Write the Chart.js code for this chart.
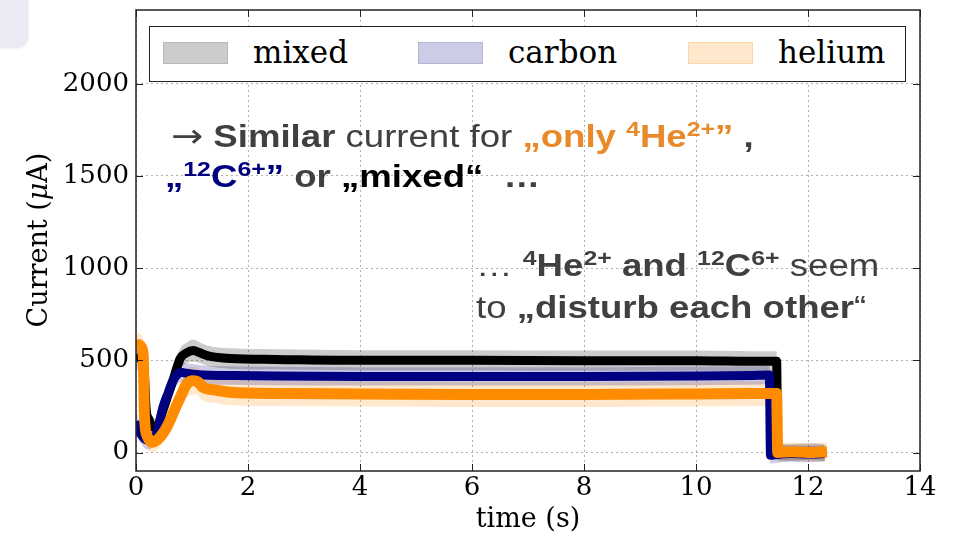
<!DOCTYPE html>
<html>
<head>
<meta charset="utf-8">
<script src="https://cdn.jsdelivr.net/npm/chart.js@4.4.0/dist/chart.umd.min.js"></script>
<style>
html, body { margin: 0; padding: 0; background: #fff; }
#wrap { position: relative; width: 958px; height: 533px; overflow: hidden; }
#chart { position: absolute; left: 0; top: 0; }
.tab { position: absolute; left: -12px; top: -12px; width: 39px; height: 59px; background: #ebebf5; border-radius: 11px; box-shadow: 1px 1px 3px rgba(0,0,0,0.12); }
#legend { position: absolute; left: 149px; top: 26px; width: 757px; height: 56px; box-sizing: border-box; border: 1.5px solid #222; background: #fff;
  font-family: 'DejaVu Serif', serif; font-size: 31px; color: #000; }
#legend .item { position: absolute; top: 0; height: 100%; display: flex; align-items: center; padding-bottom: 5px; box-sizing: border-box; }
#legend .sw { width: 65px; height: 22px; margin-right: 25px; box-sizing: border-box; border: 1px solid; position: relative; top: 1px; }
.ytitle { position: absolute; left: 37px; top: 240px; transform: translate(-50%, -50%) rotate(-90deg); white-space: nowrap;
  font-family: 'DejaVu Serif', serif; font-size: 27px; color: #000; }
.note { position: absolute; font-family: 'Liberation Sans', Arial, sans-serif; font-size: 31px; line-height: 1; color: #404040;
  white-space: nowrap; transform: scaleX(1.18); transform-origin: left center; }
.note sup { font-size: 0.68em; position: relative; top: -0.5em; vertical-align: baseline; line-height: 0; }
.note .arrow { font-family: 'DejaVu Sans', sans-serif; font-size: 1.05em; }
.orange { color: #e8892a; }
.navy { color: #000080; }
.black { color: #000; }
</style>
</head>
<body>
<div id="wrap">
  <canvas id="chart" width="958" height="533"></canvas>
  <div class="tab"></div>
  <div id="legend"></div>
  <div class="ytitle">Current (<i>μ</i>A)</div>
  <div class="note" style="left:171px;top:120px"><span class="arrow">→</span> <b>Similar</b> current for <b class="orange">„only <sup>4</sup>He<sup>2+</sup>”</b> <b>,</b></div>
  <div class="note" style="left:165px;top:161px"><b class="navy">„<sup>12</sup>C<sup>6+</sup>”</b><b> or </b><b class="black">„mixed“</b><b>&nbsp; …</b></div>
  <div class="note" style="left:476px;top:250px">… <b><sup>4</sup>He<sup>2+</sup> and <sup>12</sup>C<sup>6+</sup></b> seem</div>
  <div class="note" style="left:476px;top:292px">to <b>„disturb each other</b>“</div>
</div>
<script>
// axis ticks
const xTicks = [0, 2, 4, 6, 8, 10, 12, 14];
const yTicks = [0, 500, 1000, 1500, 2000];

const seriesNames = ['mixed', 'carbon', 'helium'];

// mixed beam (black)
const mixedTime    = [0, 0.06, 0.12, 0.15, 0.18, 0.23, 0.3, 0.37, 0.48, 0.57, 0.66, 0.73, 0.79, 0.9, 1.02, 1.15, 1.27, 1.68, 2.5, 4, 6, 8, 10, 11, 11.44, 11.46, 11.7, 12, 12.3];
const mixedCurrent = [505, 515, 500, 430, 240, 180, 140, 135, 228, 310, 390, 460, 510, 540, 553, 540, 526, 510, 505, 500, 500, 498, 498, 495, 495, 5, 0, 5, 0];
const mixedSpread  = [60, 60, 60, 70, 60, 55, 50, 50, 50, 50, 55, 55, 55, 55, 60, 55, 55, 55, 55, 55, 55, 55, 55, 55, 55, 45, 45, 45, 45];

// carbon beam (navy)
const carbonTime    = [0, 0.05, 0.1, 0.15, 0.21, 0.28, 0.37, 0.48, 0.57, 0.66, 0.73, 0.79, 0.9, 1.02, 1.2, 1.6, 2.5, 4, 6, 8, 10, 11, 11.31, 11.33, 11.45, 11.7, 12, 12.3];
const carbonCurrent = [170, 120, 95, 75, 66, 75, 104, 245, 320, 390, 420, 435, 430, 425, 420, 418, 415, 413, 413, 413, 415, 418, 420, -15, -10, -5, -8, -5];
const carbonSpread  = [60, 55, 50, 50, 50, 50, 50, 50, 55, 55, 55, 55, 55, 55, 52, 50, 50, 50, 50, 50, 50, 50, 50, 45, 45, 45, 45, 45];

// helium beam (orange)
const heliumTime    = [0, 0.05, 0.1, 0.13, 0.15, 0.2, 0.3, 0.4, 0.48, 0.57, 0.66, 0.79, 0.91, 1.02, 1.1, 1.2, 1.4, 1.68, 2.5, 4, 6, 8, 10, 11, 11.44, 11.46, 11.7, 12, 12.34];
const heliumCurrent = [575, 585, 570, 520, 200, 90, 56, 75, 104, 150, 212, 300, 373, 390, 385, 353, 340, 327, 320, 318, 315, 315, 318, 320, 320, 0, 5, 0, 5];
const heliumSpread  = [65, 65, 65, 70, 70, 60, 55, 55, 55, 60, 65, 70, 75, 75, 75, 72, 70, 70, 68, 68, 68, 68, 68, 68, 68, 50, 50, 50, 50];

const lineColors = ['#000000', '#000080', '#ff8c00'];
const lineWidths = [9, 9, 11];
const bandColors = ['rgba(0,0,0,0.2)', 'rgba(0,0,128,0.2)', 'rgba(255,140,0,0.2)'];
const swatchBorders = ['#b8b8b8', '#b4b4d6', '#fbd6ac'];

const series = [
  { t: mixedTime, y: mixedCurrent, s: mixedSpread },
  { t: carbonTime, y: carbonCurrent, s: carbonSpread },
  { t: heliumTime, y: heliumCurrent, s: heliumSpread }
];

const pts = (t, vals) => t.map((x, i) => ({ x: x, y: vals[i] }));

const datasets = [];
// min/max envelopes first: upper edge fills down to the next dataset
series.forEach((sr, k) => {
  const hi = sr.y.map((v, i) => v + sr.s[i]);
  const lo = sr.y.map((v, i) => v - sr.s[i]);
  datasets.push({ label: seriesNames[k] + ' max', data: pts(sr.t, hi), borderWidth: 0, pointRadius: 0,
    backgroundColor: bandColors[k], fill: '+1', order: 10, cubicInterpolationMode: 'monotone' });
  datasets.push({ label: seriesNames[k] + ' min', data: pts(sr.t, lo), borderWidth: 0, pointRadius: 0,
    fill: false, order: 10, cubicInterpolationMode: 'monotone' });
});
// mean traces, helium ends up on top
series.forEach((sr, k) => {
  datasets.push({ label: seriesNames[k], data: pts(sr.t, sr.y), borderColor: lineColors[k], borderWidth: lineWidths[k],
    pointRadius: 0, fill: false, order: 3 - k, cubicInterpolationMode: 'monotone', borderJoinStyle: 'round' });
});

// frame + inward ticks on all four sides
const frameTicks = {
  id: 'frameTicks',
  afterDraw(chart) {
    const { ctx, chartArea: a, scales: { x, y } } = chart;
    ctx.save();
    ctx.strokeStyle = '#222';
    ctx.lineWidth = 1;
    ctx.beginPath();
    xTicks.forEach(v => {
      const px = Math.round(x.getPixelForValue(v)) + 0.5;
      ctx.moveTo(px, a.bottom); ctx.lineTo(px, a.bottom - 7);
      ctx.moveTo(px, a.top); ctx.lineTo(px, a.top + 7);
    });
    yTicks.forEach(v => {
      const py = Math.round(y.getPixelForValue(v)) + 0.5;
      ctx.moveTo(a.left, py); ctx.lineTo(a.left + 7, py);
      ctx.moveTo(a.right, py); ctx.lineTo(a.right - 7, py);
    });
    ctx.stroke();
    ctx.lineWidth = 1.5;
    ctx.strokeRect(a.left, a.top, a.right - a.left, a.bottom - a.top);
    ctx.restore();
  }
};

const tickFont = { family: "'DejaVu Serif', serif", size: 26 };

const chart = new Chart(document.getElementById('chart'), {
  type: 'line',
  data: { datasets: datasets },
  options: {
    responsive: false,
    animation: false,
    devicePixelRatio: 1,
    layout: { padding: { left: 0, right: 38, top: 10, bottom: 0 } },
    plugins: { legend: { display: false }, tooltip: { enabled: false } },
    scales: {
      x: {
        type: 'linear', min: 0, max: 14,
        afterBuildTicks: s => { s.ticks = xTicks.map(v => ({ value: v })); },
        afterFit: s => { s.height = 62; s.paddingLeft = 0; s.paddingRight = 0; },
        ticks: { font: tickFont, color: '#000', padding: 2, maxRotation: 0, callback: v => String(v) },
        grid: { color: '#b0b0b0', lineWidth: 1, drawTicks: false },
        border: { display: false, dash: [2, 3] },
        title: { display: true, text: 'time (s)', font: { family: "'DejaVu Serif', serif", size: 27, lineHeight: 1 }, color: '#000', padding: { top: 0, bottom: 0 } }
      },
      y: {
        type: 'linear', min: -100, max: 2400,
        afterBuildTicks: s => { s.ticks = yTicks.map(v => ({ value: v })); },
        afterFit: s => { s.width = 136; s.paddingTop = 0; s.paddingBottom = 0; },
        ticks: { font: tickFont, color: '#000', padding: 7, callback: v => String(v) },
        grid: { color: '#b0b0b0', lineWidth: 1, drawTicks: false },
        border: { display: false, dash: [2, 3] }
      }
    }
  },
  plugins: [frameTicks]
});

// legend boxes from the envelope colours
const legendLeft = [13, 268, 538];
const legend = document.getElementById('legend');
seriesNames.forEach((name, k) => {
  const item = document.createElement('div');
  item.className = 'item';
  item.style.left = legendLeft[k] + 'px';
  item.innerHTML = `<span class="sw" style="background:${bandColors[k]};border-color:${swatchBorders[k]}"></span><span>${name}</span>`;
  legend.appendChild(item);
});
</script>
</body>
</html>
